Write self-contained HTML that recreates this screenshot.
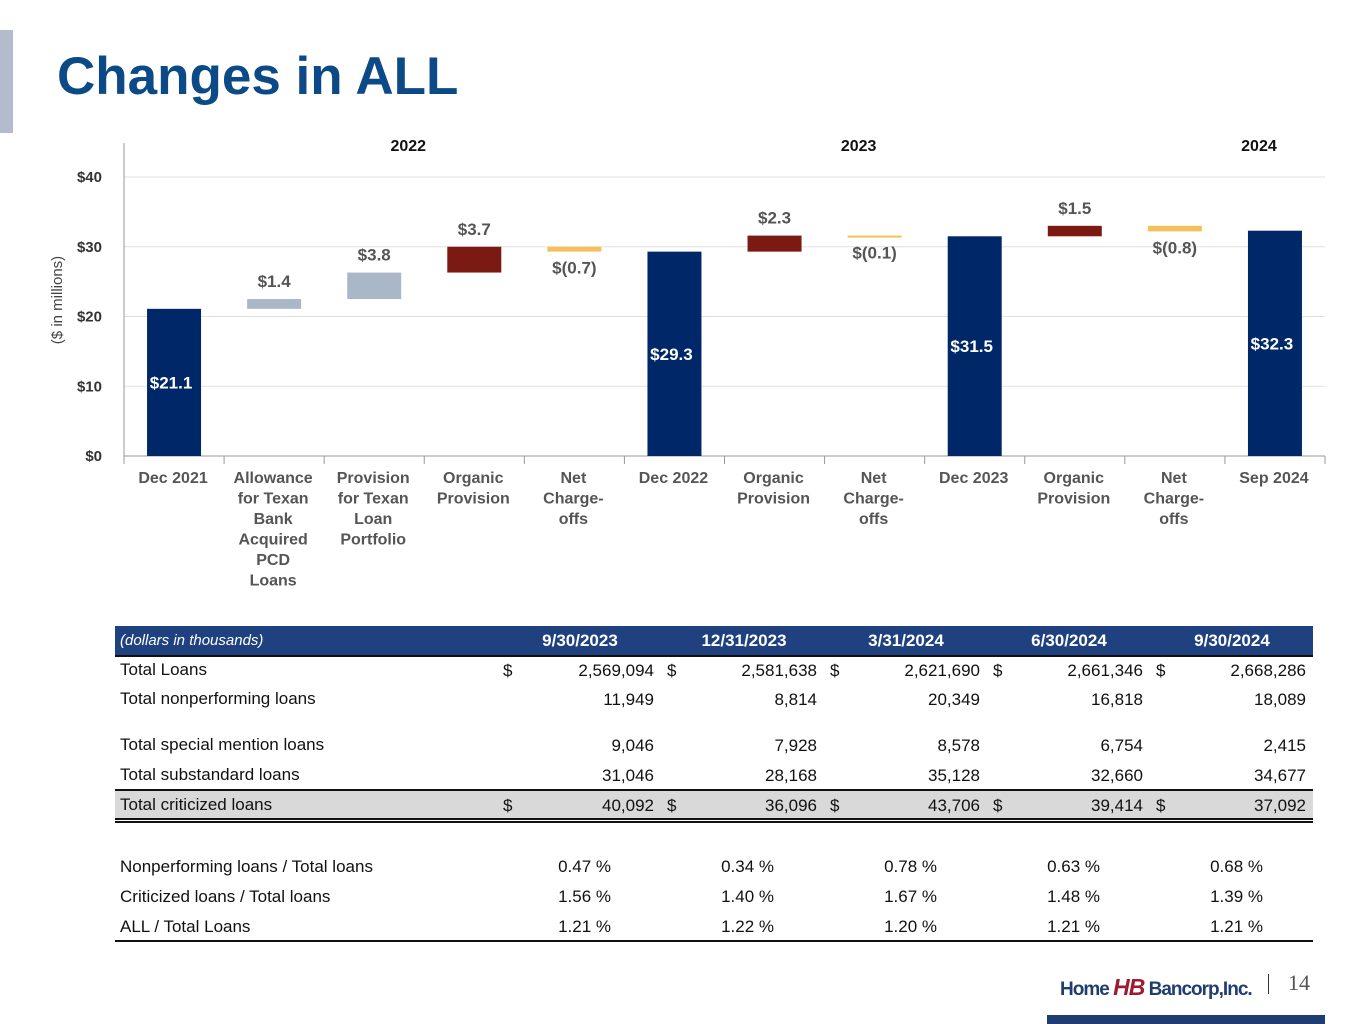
<!DOCTYPE html>
<html><head><meta charset="utf-8"><style>
body{margin:0;width:1365px;height:1024px;position:relative;background:#fff;font-family:"Liberation Sans",Arial,sans-serif;overflow:hidden}
.a{position:absolute;white-space:nowrap}
.t{font-size:17px;color:#111}
.r{text-align:right}
</style></head><body>
<div class="a" style="left:0;top:30px;width:13px;height:103px;background:#b3bccd"></div>
<div class="a" style="left:57px;top:46px;font-size:53px;font-weight:bold;color:#0b4a86">Changes in ALL</div>
<svg class="a" style="left:0;top:0" width="1365" height="600" id="chart"></svg>

<div id="tbl"></div>

<div class="a" style="left:1060px;top:974px;font-size:19px;color:#1f3d70;font-weight:bold;letter-spacing:-1px">Home <span style="color:#9b1b30;font-style:italic;font-size:23px">HB</span> Bancorp,Inc.</div>
<div class="a" style="left:1268px;top:974px;width:1px;height:20px;background:#333"></div>
<div class="a" style="left:1288px;top:970px;font-family:'Liberation Serif',serif;font-size:22px;color:#555">14</div>
<div class="a" style="left:1047px;top:1015px;width:278px;height:9px;background:#1f3d70"></div>

<script>
const categories=["Dec 2021","Allowance|for Texan|Bank|Acquired|PCD|Loans","Provision|for Texan|Loan|Portfolio","Organic|Provision","Net|Charge-|offs","Dec 2022","Organic|Provision","Net|Charge-|offs","Dec 2023","Organic|Provision","Net|Charge-|offs","Sep 2024"];
const values=[21.1,1.4,3.8,3.7,-0.7,29.3,2.3,-0.1,31.5,1.5,-0.8,32.3];
const kinds=["total","acq","acq","org","nco","total","org","nco","total","org","nco","total"];
const valueLabels=["$21.1","$1.4","$3.8","$3.7","$(0.7)","$29.3","$2.3","$(0.1)","$31.5","$1.5","$(0.8)","$32.3"];
const yTicks=[0,10,20,30,40];
const yearLabels=["2022","2023","2024"];
const yearCenters=[2.84,7.34,11.34];
const colors={total:"#002868",acq:"#aab7c9",org:"#7b1a12",nco:"#f5c05a"};
const svg=document.getElementById('chart');
const NS="http://www.w3.org/2000/svg";
const x0=124,x1=1325,y0=456,yTop=177;
const bw=(x1-x0)/categories.length;
const y=v=>y0-(v/40)*(y0-yTop);
const xc=i=>x0+bw*(i+0.5);
function mk(t,a,txt){const e=document.createElementNS(NS,t);for(const k in a)e.setAttribute(k,a[k]);if(txt!=null)e.textContent=txt;svg.appendChild(e);return e;}
yTicks.forEach(v=>{
 const g=mk('line',{x1:x0,x2:x1,y1:y(v),y2:y(v),stroke:v?'#e0e0e0':'#999','stroke-width':1});
 
 
 const t=mk('text',{x:102,y:y(v)+5,'text-anchor':'end','font-size':15,'font-weight':'bold',fill:'#333'},'$'+v);
 
 
});
const ax=mk('line',{x1:x0,x2:x0,y1:143,y2:y0+8,stroke:'#999'});


const yt=mk('text',{x:62,y:300,transform:'rotate(-90 62 300)','text-anchor':'middle','font-size':15,fill:'#444'},'($ in millions)');


yearLabels.forEach((s,i)=>{
 const t=mk('text',{x:x0+bw*yearCenters[i],y:151,'text-anchor':'middle','font-size':16,'font-weight':'bold',fill:'#111'},s);
 
 
});
let run=0;
categories.forEach((c,i)=>{
 const v=values[i],k=kinds[i];let lo,hi;
 if(k==='total'){lo=0;hi=v;run=v;}else{const n=run+v;lo=Math.min(run,n);hi=Math.max(run,n);run=n;}
 const r=mk('rect',{x:xc(i)-27,y:y(hi),width:54,height:Math.max(2,y(lo)-y(hi)),fill:colors[k]});
 
 
 let ly,fill='#555';
 if(k==='total'){ly=y(v/2)+6;fill='#fff';}
 else if(v>0)ly=y(hi)-12;else ly=y(lo)+22;
 const lt=mk('text',{x:xc(i)-(k==='total'?3:0),y:ly,'text-anchor':'middle','font-size':17,'font-weight':'bold',fill:fill},valueLabels[i]);
 
 
 const tk=mk('line',{x1:x0+bw*(i+1),x2:x0+bw*(i+1),y1:y0,y2:y0+8,stroke:'#999'});
 
 
 c.split('|').forEach((ln,j)=>{
  const t=mk('text',{x:xc(i)-1,y:483+j*20.5,'text-anchor':'middle','font-size':16,'font-weight':'bold',fill:'#555'},ln);
  
  
 });
});

// table
const tb=document.getElementById('tbl');
function div(css,txt,name){const d=document.createElement('div');d.className='a';d.style.cssText=css;if(txt!=null)d.textContent=txt;tb.appendChild(d);return d;}
div('left:115px;top:626px;width:1198px;height:29px;background:#1f4180;border-bottom:2px solid #111','','table-header');
div('left:120px;top:632px;font-size:15px;font-style:italic;color:#fff','(dollars in thousands)','header-units');
const heads=["9/30/2023","12/31/2023","3/31/2024","6/30/2024","9/30/2024"];
const hc=[580,744,906,1069,1232];
heads.forEach((h,i)=>div(`left:${hc[i]-60}px;width:120px;text-align:center;top:631px;font-size:17px;font-weight:bold;color:#fff`,h,'column-header'));
div('left:115px;top:789px;width:1198px;height:28px;background:#d9d9d9;border-top:2px solid #111','','criticized-row-bg');
div('left:115px;top:818px;width:1198px;height:5px;border-top:2px solid #111;border-bottom:2px solid #111;box-sizing:border-box','','double-rule');
div('left:115px;top:940px;width:1198px;height:2px;background:#111','','bottom-rule');
const dollarX=[509,673,836,999,1162],valR=[654,817,980,1143,1306],pctR=[611,774,937,1100,1263];
const rows=[
 ["Total Loans",660,true,["2,569,094","2,581,638","2,621,690","2,661,346","2,668,286"]],
 ["Total nonperforming loans",689,false,["11,949","8,814","20,349","16,818","18,089"]],
 ["Total special mention loans",735,false,["9,046","7,928","8,578","6,754","2,415"]],
 ["Total substandard loans",765,false,["31,046","28,168","35,128","32,660","34,677"]],
 ["Total criticized loans",795,true,["40,092","36,096","43,706","39,414","37,092"]]];
rows.forEach(r=>{
 div(`left:120px;top:${r[1]}px`,r[0],'row-label').classList.add('t');
 r[3].forEach((v,i)=>{
  if(r[2])div(`left:${dollarX[i]-6}px;top:${r[1]+1}px`,'$','dollar-sign').classList.add('t');
  div(`left:${valR[i]-120}px;width:120px;top:${r[1]+1}px;text-align:right`,v,'cell-value').classList.add('t');
 });
});
const prow=[["Nonperforming loans / Total loans",857,["0.47 %","0.34 %","0.78 %","0.63 %","0.68 %"]],
 ["Criticized loans / Total loans",887,["1.56 %","1.40 %","1.67 %","1.48 %","1.39 %"]],
 ["ALL / Total Loans",917,["1.21 %","1.22 %","1.20 %","1.21 %","1.21 %"]]];
prow.forEach(r=>{
 div(`left:120px;top:${r[1]}px`,r[0],'row-label').classList.add('t');
 r[2].forEach((v,i)=>div(`left:${pctR[i]-120}px;width:120px;top:${r[1]}px;text-align:right`,v,'cell-value').classList.add('t'));
});
</script>
</body></html>
